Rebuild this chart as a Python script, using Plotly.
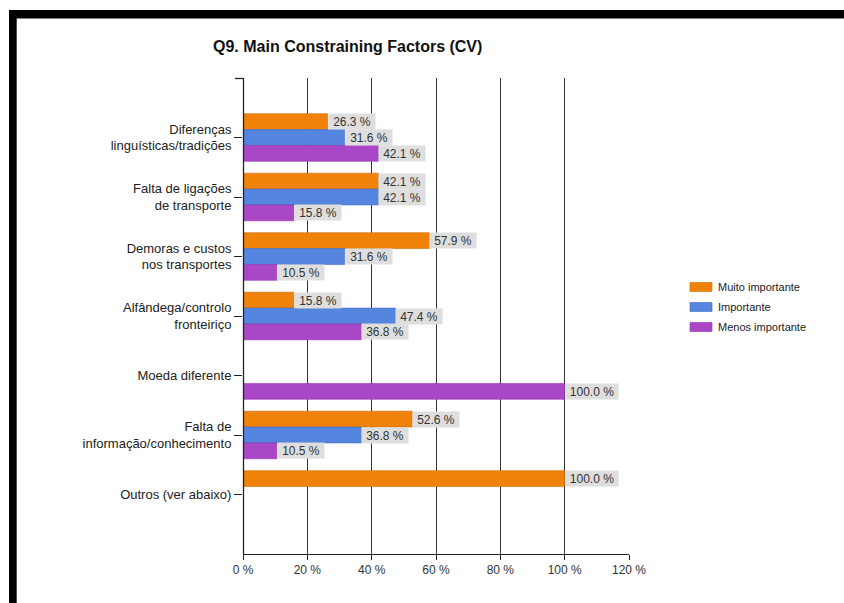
import plotly.graph_objects as go

categories = [
    "Diferenças<br>linguísticas/tradições",
    "Falta de ligações<br>de transporte",
    "Demoras e custos<br>nos transportes",
    "Alfândega/controlo<br>fronteiriço",
    "Moeda diferente",
    "Falta de<br>informação/conhecimento",
    "Outros (ver abaixo)",
]
series_names = ["Muito importante", "Importante", "Menos importante"]
muito_importante = [26.3, 42.1, 57.9, 15.8, 0.0, 52.6, 100.0]
importante = [31.6, 42.1, 31.6, 47.4, 0.0, 36.8, 0.0]
menos_importante = [42.1, 15.8, 10.5, 36.8, 100.0, 10.5, 0.0]
x_ticks = [0, 20, 40, 60, 80, 100, 120]

series_values = [muito_importante, importante, menos_importante]
colors = ["#F0820A", "#5585DE", "#A947C6"]
edge_colors = ["#D06A00", "#3E6CC4", "#8E34AC"]

W, H = 844, 603
L, R, T, B = 243, 629, 78, 554
FONT = "Liberation Sans, Arial, sans-serif"


def px_x(p):
    return (p - L) / (R - L)


def px_y(p):
    return (B - p) / (B - T)


positions = list(range(len(categories)))
bargap = 0.2
bar_w = (1 - bargap) / len(series_values)

fig = go.Figure()
for name, vals, col, ec in zip(series_names, series_values, colors, edge_colors):
    fig.add_trace(go.Bar(
        y=positions, x=vals, name=name, orientation="h",
        marker=dict(color=col, line=dict(color=ec, width=0.6)),
        showlegend=False, hoverinfo="skip",
    ))

annotations = []
for k, vals in enumerate(series_values):
    off = (k - (len(series_values) - 1) / 2) * bar_w
    for i, v in enumerate(vals):
        if v <= 0:
            continue
        annotations.append(dict(
            x=v, y=i + off, xref="x", yref="y", text=f"{v:.1f} %",
            xanchor="left", yanchor="middle", showarrow=False,
            bgcolor="#DEDEDE", width=46 if v < 100 else 52, height=15,
            borderpad=0, align="center",
            font=dict(family=FONT, size=12, color="#333333"),
        ))

# title
annotations.append(dict(
    x=px_x(347), y=px_y(46), xref="paper", yref="paper",
    text="<b>Q9. Main Constraining Factors (CV)</b>", showarrow=False,
    xanchor="center", yanchor="middle",
    font=dict(family=FONT, size=16, color="#111111"),
))

shapes = []
# legend drawn as swatches with labels
for k, (name, col, ec) in enumerate(zip(series_names, colors, edge_colors)):
    cy = 287 + 20 * k
    shapes.append(dict(
        type="rect", xref="paper", yref="paper",
        x0=px_x(690), x1=px_x(712), y0=px_y(cy + 4.5), y1=px_y(cy - 4.5),
        fillcolor=col, line=dict(color=ec, width=0.6),
    ))
    annotations.append(dict(
        x=px_x(716), y=px_y(cy), xref="paper", yref="paper", text=name,
        showarrow=False, xanchor="left", yanchor="middle",
        font=dict(family=FONT, size=11, color="#222222"),
    ))

# category axis line, with the end tick at its top
shapes.append(dict(type="line", xref="paper", yref="paper",
                   x0=px_x(243.5), x1=px_x(243.5), y0=px_y(554), y1=px_y(78),
                   line=dict(color="#222222", width=1.3), layer="above"))
shapes.append(dict(type="line", xref="paper", yref="paper",
                   x0=px_x(235), x1=px_x(243.5), y0=px_y(78.5), y1=px_y(78.5),
                   line=dict(color="#222222", width=1.3), layer="above"))

# black frame along the top and left edges
shapes.append(dict(type="rect", xref="paper", yref="paper",
                   x0=px_x(9), x1=px_x(W + 5), y0=px_y(18.5), y1=px_y(10),
                   fillcolor="#000000", line=dict(width=0), layer="above"))
shapes.append(dict(type="rect", xref="paper", yref="paper",
                   x0=px_x(9), x1=px_x(16.7), y0=px_y(H + 5), y1=px_y(10),
                   fillcolor="#000000", line=dict(width=0), layer="above"))

fig.update_layout(
    template="none",
    width=W, height=H,
    margin=dict(l=L, r=W - R, t=T, b=H - B, pad=0),
    paper_bgcolor="white", plot_bgcolor="white",
    barmode="group", bargap=bargap, bargroupgap=0,
    showlegend=False,
    annotations=annotations, shapes=shapes,
    font=dict(family=FONT, size=12, color="#222222"),
    xaxis=dict(
        range=[0, 120], tickvals=x_ticks, ticktext=[f"{t} %" for t in x_ticks],
        showgrid=True, gridcolor="#333333", gridwidth=1,
        zeroline=False, showline=True, linecolor="#222222", linewidth=1,
        ticks="outside", ticklen=5, tickcolor="#222222", tickwidth=1,
        tickfont=dict(family=FONT, size=12, color="#333333"),
        fixedrange=True,
    ),
    yaxis=dict(
        range=[7, -1], tickvals=positions, ticktext=categories,
        showgrid=False, zeroline=False, showline=False,
        ticks="outside", ticklen=8, tickcolor="#222222", tickwidth=1,
        tickfont=dict(family=FONT, size=13, color="#222222"),
        fixedrange=True,
    ),
)

fig.write_html("out.html")
